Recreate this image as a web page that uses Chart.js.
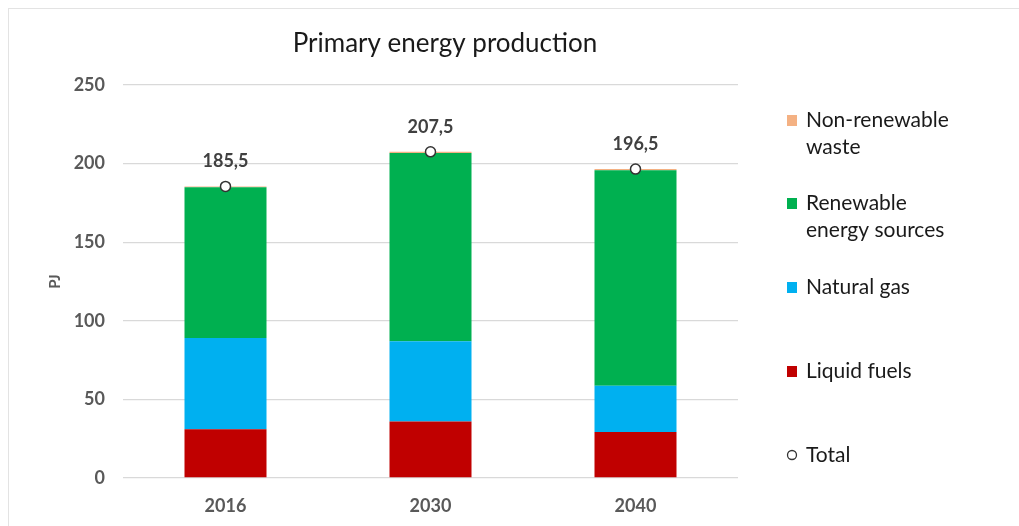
<!DOCTYPE html>
<html>
<head>
<meta charset="utf-8">
<script src="https://cdn.jsdelivr.net/npm/chart.js@4.4.0/dist/chart.umd.min.js"></script>
<style>
  html, body { margin: 0; padding: 0; background: #fff; }
  #wrap { position: relative; width: 1019px; height: 526px; }
  #frame { position: absolute; left: 8px; top: 8px; right: -2px; bottom: -2px; border-top: 1px solid #e3e3e3; border-left: 1px solid #e3e3e3; pointer-events: none; }
</style>
</head>
<body>
<div id="wrap">
  <canvas id="chart" width="1019" height="526"></canvas>
  <div id="frame"></div>
</div>
<script>
const years = ["2016", "2030", "2040"];
const liquidFuels = [31, 36, 29.3];
const naturalGas = [58, 51, 29.4];
const renewables = [96, 119.7, 137];
const nonRenewableWaste = [0.5, 0.8, 0.8];
const totals = [185.5, 207.5, 196.5];

const fontFamily = "Lato, 'Open Sans', sans-serif";
const greyText = "#595959";

// Legend entries, drawn by hand at the right side
const legendItems = [
  { lines: ["Non-renewable", "waste"], color: "#F4B183", y: 120 },
  { lines: ["Renewable", "energy sources"], color: "#00B050", y: 203 },
  { lines: ["Natural gas"], color: "#00B0F0", y: 287 },
  { lines: ["Liquid fuels"], color: "#C00000", y: 371 },
  { lines: ["Total"], color: null, y: 455 },
];

const fmt = (v) => v.toFixed(1).replace(".", ",");

const extrasPlugin = {
  id: "extras",
  afterDraw(chart) {
    const ctx = chart.ctx;
    ctx.save();
    // title
    ctx.fillStyle = "#1a1a1a";
    ctx.font = "26px " + fontFamily;
    ctx.textAlign = "center";
    ctx.textBaseline = "middle";
    ctx.fillText("Primary energy production", 445, 44);

    // total labels above the points
    const meta = chart.getDatasetMeta(4);
    ctx.font = "bold 18px " + fontFamily;
    ctx.fillStyle = "#404040";
    meta.data.forEach((pt, i) => {
      ctx.fillText(fmt(totals[i]), pt.x, pt.y - 25);
    });

    // legend
    ctx.textAlign = "left";
    ctx.font = "21px " + fontFamily;
    legendItems.forEach((item) => {
      if (item.color) {
        ctx.fillStyle = item.color;
        ctx.fillRect(787, item.y - 5, 10, 11);
      } else {
        ctx.beginPath();
        ctx.arc(792, item.y, 4.5, 0, Math.PI * 2);
        ctx.fillStyle = "#fff";
        ctx.fill();
        ctx.strokeStyle = "#333";
        ctx.lineWidth = 1.3;
        ctx.stroke();
      }
      ctx.fillStyle = "#1a1a1a";
      item.lines.forEach((line, j) => {
        ctx.fillText(line, 806, item.y + j * 27);
      });
    });
    ctx.restore();
  },
};

new Chart(document.getElementById("chart"), {
  data: {
    labels: years,
    datasets: [
      { type: "bar", label: "Liquid fuels", data: liquidFuels, backgroundColor: "#C00000", stack: "s", order: 2 },
      { type: "bar", label: "Natural gas", data: naturalGas, backgroundColor: "#00B0F0", stack: "s", order: 2 },
      { type: "bar", label: "Renewable energy sources", data: renewables, backgroundColor: "#00B050", stack: "s", order: 2 },
      { type: "bar", label: "Non-renewable waste", data: nonRenewableWaste, backgroundColor: "#F4B183", stack: "s", order: 2 },
      {
        type: "line", label: "Total", data: totals, showLine: false, order: 1,
        pointRadius: 5, pointBackgroundColor: "#fff", pointBorderColor: "#333", pointBorderWidth: 1.5,
      },
    ],
  },
  options: {
    responsive: false,
    animation: false,
    layout: { padding: { left: 42, right: 281, top: 85, bottom: 0 } },
    datasets: { bar: { categoryPercentage: 1, barPercentage: 0.4 } },
    plugins: {
      legend: { display: false },
      tooltip: { enabled: false },
      title: { display: false },
    },
    scales: {
      x: {
        stacked: true,
        grid: { display: false },
        border: { display: false },
        ticks: { color: greyText, font: { family: fontFamily, size: 18, weight: "bold" }, padding: 9 },
        afterFit: (scale) => { scale.height = 48; },
      },
      y: {
        stacked: true,
        min: 0,
        max: 250,
        ticks: { stepSize: 50, color: greyText, font: { family: fontFamily, size: 18, weight: "bold" }, padding: 18 },
        grid: { color: "#d9d9d9", lineWidth: 1.3, drawTicks: false },
        border: { display: false },
        title: { display: true, text: "PJ", color: greyText, font: { family: fontFamily, size: 15, weight: "bold" } },
        afterFit: (scale) => { scale.width = 81; },
      },
    },
  },
  plugins: [extrasPlugin],
});
</script>
</body>
</html>
